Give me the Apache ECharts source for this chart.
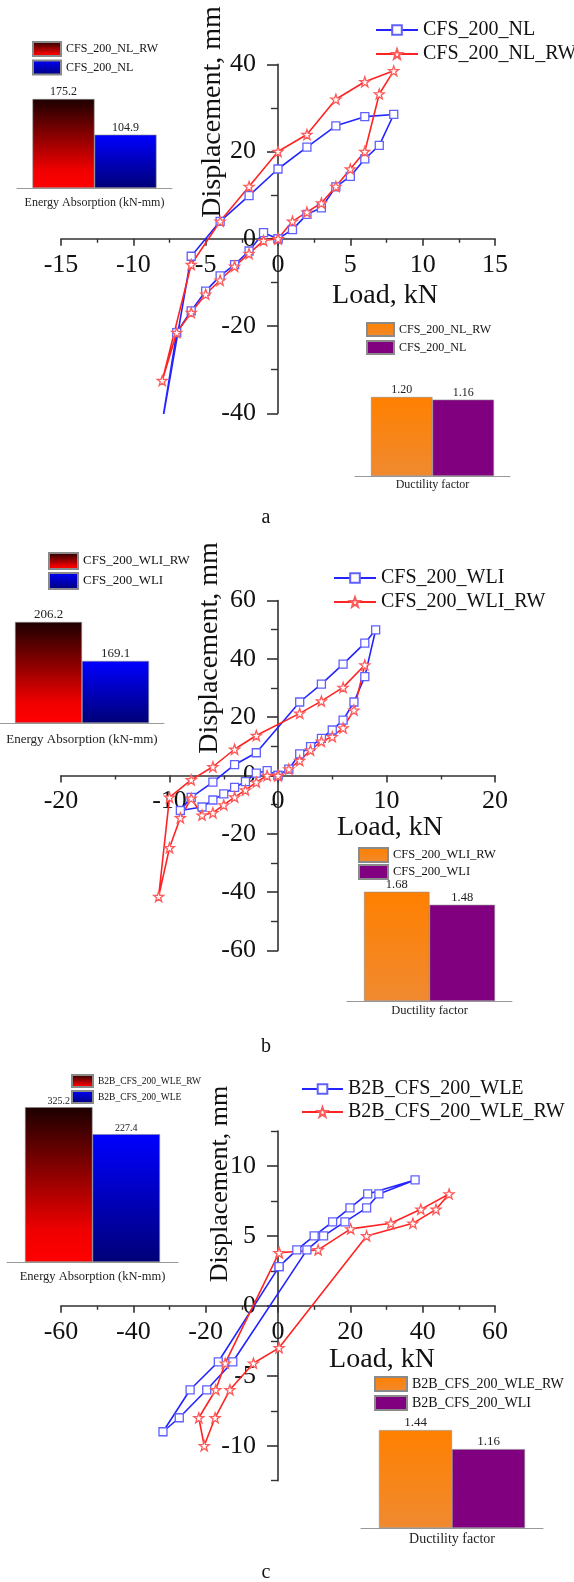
<!DOCTYPE html>
<html>
<head>
<meta charset="utf-8">
<script src="https://cdn.jsdelivr.net/npm/echarts@6/dist/echarts.min.js"></script>
<style>
  html, body { margin: 0; padding: 0; background: #fff; }
  #chart { width: 574px; height: 1582px; }
</style>
</head>
<body>
<div id="chart"></div>
<script>
// ---- data: [load kN, displacement mm] ----
// panel a
const aNL = [[0,0],[1,2.1],[2,5.6],[3,7.1],[4,11.9],[5,14.3],[6,18.3],[7,21.4],[8,28.5],[6,28],[4,25.9],[2,21],[0,16],[-2,9.9],[-4,4],[-6,-4],[-8.1,-44],[-7,-21.5],[-6,-16.5],[-5,-12],[-4,-8.5],[-3,-5.9],[-2,-2.8],[-1,1.4],[0,0]];
const aNLRW = [[0,0],[1,4],[2,6.1],[3,8.2],[4,12],[5,16],[6,20],[7,33.2],[8,38.5],[6,36],[4,32],[2,23.9],[0,20],[-2,12],[-4,4],[-6,-5.9],[-8,-32.5],[-7,-21.5],[-6,-16.9],[-5,-12.7],[-4,-9.5],[-3,-6.3],[-2,-3.4],[-1,-0.4],[0,0]];
// panel b
const bWLI = [[0,0],[1,2.2],[2,7.4],[3,9.9],[4,12.7],[5,15.6],[6,19],[7,25.2],[8,33.9],[9,49.9],[8,45.4],[6,38.2],[4,31.3],[2,25.2],[-2,7.8],[-4,3.7],[-6,-2.3],[-8,-7.5],[-9,-12],[-7,-10.8],[-6,-8.4],[-5,-6.3],[-4,-4.1],[-3,-2.1],[-2,0.8],[-1,1.7],[0,0]];
const bWLIRW = [[0,0],[1,2.2],[2,5.1],[3,8.7],[4,11.7],[5,13.3],[6,16.3],[7,22.4],[8,37.9],[6,30.2],[4,25.5],[2,21.3],[-2,13.7],[-4,9],[-6,3],[-8,-1.5],[-10,-7.5],[-11,-41.5],[-10,-24.8],[-9,-14.5],[-8,-7.8],[-7,-13.6],[-6,-12.8],[-5,-10.1],[-4,-7.4],[-3,-5],[-2,-2.3],[-1,0],[0,0]];
// panel c
const cWLE = [[0.3,2.8],[5.2,4],[10,5],[15.1,6],[19.9,7],[24.8,8],[37.9,9],[27.9,8],[24.5,7],[18.5,6],[12.6,5],[8,4],[-12.5,-4],[-19.7,-6],[-27.3,-8],[-31.8,-9],[-24.3,-6],[-16.5,-4],[0.3,2.8]];
const cWLERW = [[0.3,3.8],[11.1,4],[20.1,5.5],[31.2,5.9],[39.5,6.9],[47.3,8],[43.7,6.9],[37.3,5.9],[24.5,5],[0.3,-3],[-6.8,-4.1],[-13.3,-6],[-17.4,-8],[-20.4,-10],[-21.9,-8],[-17.2,-6],[-14.6,-4.1],[0.3,3.8]];

// inset bars (RW first, then plain)
const aEnergy = [175.2, 104.9];
const aDuct = [1.20, 1.16];
const bEnergy = [206.2, 169.1];
const bDuct = [1.68, 1.48];
const cEnergy = [325.2, 227.4];
const cDuct = [1.44, 1.16];

const aNames = ['CFS_200_NL', 'CFS_200_NL_RW'];
const bNames = ['CFS_200_WLI', 'CFS_200_WLI_RW'];
const cNames = ['B2B_CFS_200_WLE', 'B2B_CFS_200_WLE_RW'];
const cDuctNames = ['B2B_CFS_200_WLE_RW', 'B2B_CFS_200_WLI'];
const energyCat = ['Energy Absorption (kN-mm)'];
const ductCat = ['Ductility factor'];
const cYTicks = [-10, -5, 0, 5, 10];
const cYMinor = [-12.5, -7.5, -2.5, 2.5, 7.5, 12.5];

const FONT = "'Liberation Serif', 'Times New Roman', serif";
const STAR = 'path://M0,-10L2.35,-3.24L9.51,-3.09L3.8,1.24L5.88,8.09L0,4L-5.88,8.09L-3.8,1.24L-9.51,-3.09L-2.35,-3.24Z';
const G = echarts.graphic.LinearGradient;
const redGrad = () => new G(0, 0, 0, 1, [{offset: 0, color: '#1c0000'}, {offset: 0.8, color: '#f00000'}, {offset: 1, color: '#ff0000'}]);
const blueGrad = () => new G(0, 0, 0, 1, [{offset: 0, color: '#0000ff'}, {offset: 1, color: '#000078'}]);
const orangeGrad = () => new G(0, 0, 0, 1, [{offset: 0, color: '#ff8000'}, {offset: 1, color: '#f08a30'}]);
const purple = () => '#800080';

const chart = echarts.init(document.getElementById('chart'));

const grids = [];
const xAxes = [];
const yAxes = [];
const extraY = [];
const series = [];
const legends = [];
const texts = [];

// axes are symmetric round zero, so the crossing sits at the grid centre:
// shift them inward with a negative offset instead of onZero
function mainPanel(box, xr, yr, yCustom) {
  const g = grids.length;
  grids.push({left: box[0], top: box[1], width: box[2], height: box[3]});
  const line = {onZero: false, lineStyle: {color: '#333', width: 1.6}};
  xAxes.push({
    type: 'value', gridIndex: g, min: xr[0], max: xr[1], interval: xr[2],
    position: 'bottom', offset: -box[3] / 2,
    axisLine: line,
    axisTick: {length: 7, lineStyle: {color: '#333', width: 1.6}},
    minorTick: {show: true, splitNumber: 2, length: 4, lineStyle: {color: '#333', width: 1.4}},
    splitLine: {show: false},
    axisLabel: {fontFamily: FONT, fontSize: 26, color: '#111', margin: 13}
  });
  const y = {
    type: 'value', gridIndex: g, min: yr[0], max: yr[1], interval: yr[2],
    position: 'left', offset: -box[2] / 2,
    axisLine: line,
    axisTick: {length: 11, lineStyle: {color: '#333', width: 1.6}},
    minorTick: {show: true, splitNumber: 2, length: 7, lineStyle: {color: '#333', width: 1.4}},
    splitLine: {show: false},
    axisLabel: {fontFamily: FONT, fontSize: 26, color: '#111', margin: 22}
  };
  if (yCustom) {
    y.minorTick = {show: false};
    y.axisTick.customValues = yCustom;
    y.axisLabel.customValues = yCustom;
    y.axisLabel.formatter = v => (Math.abs(v % 5) < 1e-9 ? String(v) : '');
  }
  yAxes.push(y);
  return g;
}

function lineSeries(name, data, g, star) {
  series.push({
    name: name, type: 'line', xAxisIndex: g, yAxisIndex: g, data: data,
    symbol: star ? STAR : 'rect', symbolSize: star ? 10 : 8,
    lineStyle: {color: star ? '#ff2424' : '#2424ff', width: 1.6},
    itemStyle: {color: '#fff', borderColor: star ? '#ff5a5a' : '#6060ff', borderWidth: 1.3},
    animation: false, clip: true
  });
}

function barPanel(box, yMin, yMax, cat, catSize, values, names, colors, barW, valSize, dec) {
  const g = grids.length;
  grids.push({left: box[0], top: box[1], width: box[2], height: box[3]});
  xAxes.push({
    type: 'category', gridIndex: g, data: cat,
    axisLine: {onZero: false, lineStyle: {color: '#999', width: 1}},
    axisTick: {show: false},
    axisLabel: {fontFamily: FONT, fontSize: catSize, color: '#222', margin: box[4]}
  });
  yAxes.push({type: 'value', gridIndex: g, min: yMin, max: yMax, startValue: yMin, show: false, splitLine: {show: false}});
  values.forEach((v, i) => {
    series.push({
      name: names[i], type: 'bar', xAxisIndex: g, yAxisIndex: g, data: [v],
      barWidth: barW, barGap: '0%',
      itemStyle: {color: colors[i](), borderColor: '#8a8a8a', borderWidth: 0.6},
      label: {show: true, position: 'top', distance: 1, fontFamily: FONT, fontSize: valSize, color: '#222',
        formatter: p => p.value.toFixed(dec)},
      animation: false, clip: true
    });
  });
}

function legend(names, left, top, iw, ih, gap, fs, icon) {
  legends.push({
    data: names, orient: 'vertical', left: left, top: top, itemWidth: iw, itemHeight: ih, itemGap: gap,
    padding: 0, icon: icon,
    formatter: n => n.split('#')[0],
    textStyle: {fontFamily: FONT, fontSize: fs, color: '#111'},
    selectedMode: false
  });
}

function label(text, x, y, size, rot) {
  texts.push({type: 'text', x: x, y: y, rotation: rot ? Math.PI / 2 : 0,
    style: {text: text, fontFamily: FONT, fontSize: size, fill: '#111', align: 'center', verticalAlign: 'middle'}});
}

// ---- panel a ----
let g = mainPanel([61, 64.3, 434, 349], [-15, 15, 5], [-40, 40, 20]);
lineSeries(aNames[0], aNL, g, false);
lineSeries(aNames[1], aNLRW, g, true);
legend(aNames, 375, 20, 42, 12, 4, 20);
barPanel([17, 86.4, 155, 101.6, 9], 0, 200, energyCat, 12, aEnergy,
  [aNames[1] + '#e', aNames[0] + '#e'], [redGrad, blueGrad], 62, 12, 1);
legend([aNames[1] + '#e', aNames[0] + '#e'], 32, 41, 28, 14, 2.5, 12, 'rect');
barPanel([355, 377.25, 155, 98.75, 3], 0, 1.5, ductCat, 12, aDuct,
  [aNames[1] + '#d', aNames[0] + '#d'], [orangeGrad, purple], 61.5, 12, 2);
legend([aNames[1] + '#d', aNames[0] + '#d'], 366, 322, 27, 13, 3, 12, 'rect');
label('Displacement, mm', 213, 112, 28, true);
label('Load, kN', 385, 296, 28);
label('a', 266, 518, 20);

// ---- panel b ----
g = mainPanel([61, 600.5, 434, 350], [-20, 20, 10], [-60, 60, 20]);
lineSeries(bNames[0], bWLI, g, false);
lineSeries(bNames[1], bWLIRW, g, true);
legend(bNames, 333, 568, 42, 12, 4, 20);
barPanel([0, 607.5, 164, 115.5, 10], 110, 220, energyCat, 13, bEnergy,
  [bNames[1] + '#e', bNames[0] + '#e'], [redGrad, blueGrad], 67, 13, 1);
legend([bNames[1] + '#e', bNames[0] + '#e'], 48, 552, 29, 16, 2, 13, 'rect');
barPanel([347, 871, 165, 130, 3], 0, 2.0, ductCat, 12.5, bDuct,
  [bNames[1] + '#d', bNames[0] + '#d'], [orangeGrad, purple], 65.5, 12.5, 2);
legend([bNames[1] + '#d', bNames[0] + '#d'], 358, 847, 29, 14, 1, 12.5, 'rect');
label('Displacement, mm', 210, 648, 28, true);
label('Load, kN', 390, 828, 28);
label('b', 266, 1047, 20);

// ---- panel c ----
g = mainPanel([61, 1131, 434, 349.7], [-60, 60, 20], [-12.5, 12.5, 2.5], cYTicks);
// second y axis on the same grid, only for the half-step ticks (added last)
extraY.push({
  type: 'value', gridIndex: g, min: -12.5, max: 12.5, interval: 2.5, position: 'left', offset: -217,
  axisLine: {show: false, onZero: false}, axisLabel: {show: false}, splitLine: {show: false},
  axisTick: {length: 7, customValues: cYMinor, lineStyle: {color: '#333', width: 1.4}}
});
lineSeries(cNames[0], cWLE, g, false);
lineSeries(cNames[1], cWLERW, g, true);
legend(cNames, 301, 1079, 41, 12, 3, 20);
barPanel([7, 1086.5, 171, 175.5, 8], -236, 400, energyCat, 12.5, cEnergy,
  [cNames[1] + '#e', cNames[0] + '#e'], [redGrad, blueGrad], 67.5, 10, 1);
legend([cNames[1] + '#e', cNames[0] + '#e'], 71, 1074, 21, 12, 2, 9.5, 'rect');
barPanel([361, 1405.6, 182, 122.4, 4], 0, 1.8, ductCat, 14, cDuct,
  [cDuctNames[0] + '#d', cDuctNames[1] + '#d'], [orangeGrad, purple], 73, 13, 2);
legend([cDuctNames[0] + '#d', cDuctNames[1] + '#d'], 374, 1376, 32, 14, 3, 14, 'rect');
label('Displacement, mm', 220, 1184, 26, true);
label('Load, kN', 382, 1360, 28);
label('c', 266, 1573, 20);

chart.setOption({
  backgroundColor: '#fff',
  animation: false,
  grid: grids,
  xAxis: xAxes,
  yAxis: yAxes.concat(extraY),
  legend: legends,
  series: series,
  graphic: texts
});
</script>
</body>
</html>
